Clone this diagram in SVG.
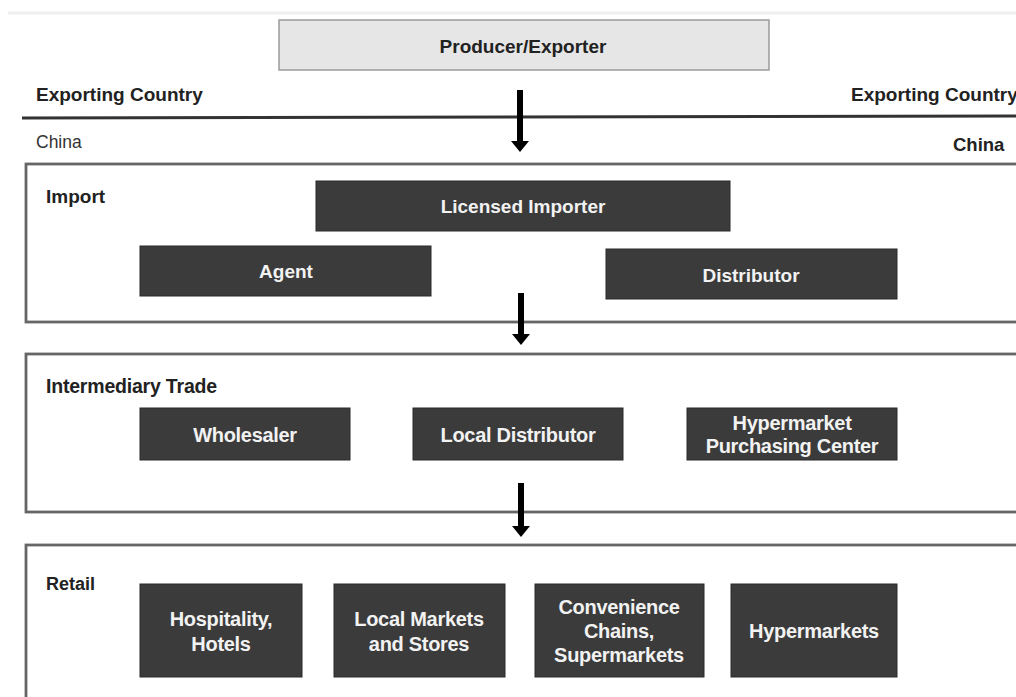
<svg xmlns="http://www.w3.org/2000/svg" width="1016" height="697" viewBox="0 0 1016 697">
<style>
text{font-family:"Liberation Sans",Arial,sans-serif;font-weight:bold}
.lbl{font-size:19px;fill:#222}
.reg{font-size:17.5px;fill:#333;font-weight:normal}
.sec{fill:#fff;stroke:#666;stroke-width:2.8}
.dk{fill:#3b3b3b;stroke:#2a2a2a;stroke-width:1}
.wt{font-size:19px;fill:#f2f2f2;text-anchor:middle}
.nt{font-size:20px;fill:#f2f2f2;text-anchor:middle;letter-spacing:-0.3px}
.arr{fill:#000}
</style>
<rect width="1016" height="697" fill="#fff"/>
<line x1="8" y1="13" x2="1016" y2="13" stroke="#eeeeee" stroke-width="3"/>
<g id="producer">
<rect x="279" y="20" width="490" height="50" fill="#e6e6e6" stroke="#9a9a9a" stroke-width="1.5"/>
<text x="523" y="53" text-anchor="middle" font-size="19" fill="#222">Producer/Exporter</text>
</g>
<g id="border">
<text class="lbl" x="36" y="101">Exporting Country</text>
<text class="lbl" x="851" y="101">Exporting Country</text>
<line x1="22" y1="118" x2="1016" y2="116" stroke="#333" stroke-width="3"/>
<text class="reg" x="36" y="148">China</text>
<text class="lbl" x="953" y="151" style="font-size:18.5px">China</text>
</g>
<g id="import">
<rect class="sec" x="26" y="164" width="1000" height="158"/>
<text class="lbl" x="46" y="203">Import</text>
</g>
<g id="licensed-importer">
<rect class="dk" x="316" y="181" width="414" height="50"/>
<text class="wt" x="523" y="213">Licensed Importer</text>
</g>
<g id="agent">
<rect class="dk" x="140" y="246" width="291" height="50"/>
<text class="wt" x="286" y="278">Agent</text>
</g>
<g id="distributor">
<rect class="dk" x="606" y="249" width="291" height="50"/>
<text class="wt" x="751" y="282">Distributor</text>
</g>
<g id="intermediary">
<rect class="sec" x="26" y="354" width="1000" height="158"/>
<text class="lbl" x="46" y="393" style="font-size:19.5px;letter-spacing:-0.2px">Intermediary Trade</text>
</g>
<g id="wholesaler">
<rect class="dk" x="140" y="408" width="210" height="52"/>
<text class="nt" x="245" y="442">Wholesaler</text>
</g>
<g id="local-distributor">
<rect class="dk" x="413" y="408" width="210" height="52"/>
<text class="nt" x="518" y="442">Local Distributor</text>
</g>
<g id="hypermarket-purchasing">
<rect class="dk" x="687" y="408" width="210" height="52"/>
<text class="nt" x="792" y="430">Hypermarket</text>
<text class="nt" x="792" y="453">Purchasing Center</text>
</g>
<g id="retail">
<rect class="sec" x="26" y="545" width="1000" height="170"/>
<text class="lbl" x="46" y="590" style="font-size:18px">Retail</text>
</g>
<g id="hospitality">
<rect class="dk" x="140" y="584" width="162" height="93"/>
<text class="nt" x="221" y="626">Hospitality,</text>
<text class="nt" x="221" y="651">Hotels</text>
</g>
<g id="local-markets">
<rect class="dk" x="334" y="584" width="171" height="93"/>
<text class="nt" x="419" y="626">Local Markets</text>
<text class="nt" x="419" y="651">and Stores</text>
</g>
<g id="convenience">
<rect class="dk" x="535" y="584" width="169" height="93"/>
<text class="nt" x="619" y="614">Convenience</text>
<text class="nt" x="619" y="638">Chains,</text>
<text class="nt" x="619" y="662">Supermarkets</text>
</g>
<g id="hypermarkets">
<rect class="dk" x="731" y="584" width="166" height="93"/>
<text class="nt" x="814" y="638">Hypermarkets</text>
</g>
<g id="connectors">
<path class="arr" d="M517,90 H523 V141 H529 L520,152 L511,141 H517 Z"/>
<path class="arr" d="M518,293 H524 V334 H530 L521,345 L512,334 H518 Z"/>
<path class="arr" d="M518,483 H524 V526 H530 L521,537 L512,526 H518 Z"/>
</g>
</svg>
